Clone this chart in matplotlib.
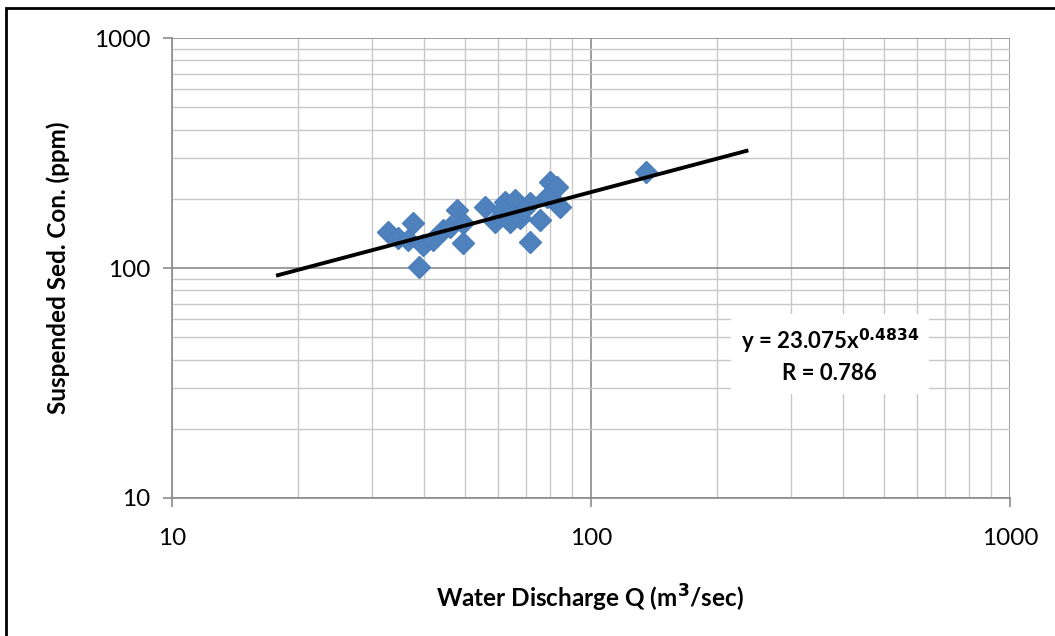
import matplotlib.pyplot as plt
import numpy as np
from matplotlib.patches import Rectangle
from matplotlib.ticker import LogLocator, NullFormatter

plt.rcParams['font.family'] = ['Lato', 'DejaVu Sans']

# water discharge Q (m3/sec) and suspended sediment concentration (ppm)
Q = [32.8, 34.6, 37.6, 36.6, 38.9, 39.7, 42.0, 44.4, 46.1, 47.9, 49.5, 49.5,
     55.8, 59.0, 62.3, 64.1, 65.9, 67.7, 71.5, 71.5, 75.6, 79.8, 83.0, 84.3,
     78.5, 61.3, 68.8, 135.0]
C = [143, 135, 157, 132, 101, 126, 132, 146, 151, 179, 157, 128,
     184, 158, 194, 158, 198, 165, 192, 130, 162, 237, 225, 184,
     204, 179, 179, 261]

a, b = 23.075, 0.4834
fit_x = np.array([17.9, 235.0])
fit_y = a * fit_x ** b

fig = plt.figure(figsize=(10.55, 6.36), dpi=100)
ax = fig.add_axes([172/1055, 1 - 498/636, (1010 - 172)/1055, (498 - 38)/636])

ax.set_xscale('log')
ax.set_yscale('log')
ax.set_xlim(10, 1000)
ax.set_ylim(10, 1000)

ax.xaxis.set_minor_locator(LogLocator(base=10, subs=np.arange(2, 10)))
ax.yaxis.set_minor_locator(LogLocator(base=10, subs=np.arange(2, 10)))
ax.xaxis.set_minor_formatter(NullFormatter())
ax.yaxis.set_minor_formatter(NullFormatter())
ax.set_xticks([10, 100, 1000])
ax.set_yticks([10, 100, 1000])
ax.set_xticklabels(['10', '100', '1000'])
ax.set_yticklabels(['10', '100', '1000'])

ax.grid(which='major', color='#8c8c8c', lw=1.2)
ax.grid(which='minor', color='#c8c8c8', lw=1.0)
ax.set_axisbelow(True)
for s in ax.spines.values():
    s.set_visible(False)
for side in ['left', 'bottom']:
    ax.spines[side].set_visible(True)
    ax.spines[side].set_color('#8c8c8c')
    ax.spines[side].set_linewidth(1.2)
ax.tick_params(which='major', length=6.5, width=1.2, color='#8c8c8c',
               labelsize=17.5)
ax.tick_params(which='minor', length=0)
ax.tick_params(axis='x', pad=15)
ax.tick_params(axis='y', pad=9)

ax.plot(Q, C, 'D', color='#4f81bd', ms=11, mec='#4a7ebb', zorder=3)
ax.plot(fit_x, fit_y, color='black', lw=2.8, zorder=4)

ax.text(0.785, 0.31, 'y = 23.075x$^{\\mathbf{0.4834}}$\nR = 0.786',
        transform=ax.transAxes, ha='center', va='center', fontsize=16,
        fontweight='bold', linespacing=1.45,
        bbox=dict(facecolor='white', edgecolor='none', pad=7), zorder=5)

ax.set_xlabel('Water Discharge Q (m$^{\\mathbf{3}}$/sec)', fontsize=17.5,
              fontweight='bold')
ax.set_ylabel('Suspended Sed. Con. (ppm)', fontsize=17.5, fontweight='bold')
ax.xaxis.set_label_coords(0.499, -0.185)
ax.yaxis.set_label_coords(-0.1217, 0.5)

# outer chart frame (only its left and top edges fall inside the image)
fig.patches.append(Rectangle((6/1055, -20/636), 1100/1055, 648/636,
                             transform=fig.transFigure, fill=False,
                             edgecolor='black', lw=2))

fig.savefig('out.png', dpi=100)
